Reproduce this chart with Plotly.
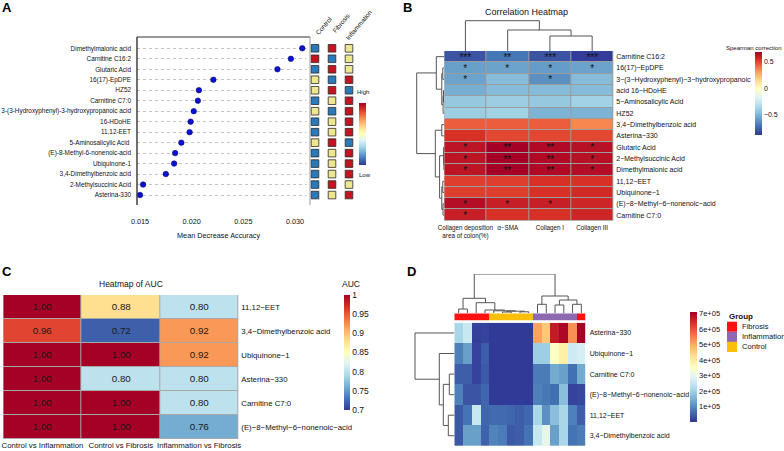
import plotly.graph_objects as go

W, H = 784, 451
def fx(p): return p / W
def fy(p): return 1 - p / H

SANS = "Liberation Sans, Arial, sans-serif"
NARROW = SANS

# ---------------- DATA ----------------
# Panel A: random forest importance
a_metabolites = ["Dimethylmalonic acid", "Carnitine C16:2", "Glutaric Acid", "16(17)-EpDPE", "HZ52",
                 "Carnitine C7:0", "3-(3-Hydroxyphenyl)-3-hydroxypropanoic acid", "16-HDoHE", "11,12-EET",
                 "5-Aminosalicylic Acid ", "(E)-8-Methyl-6-nonenoic-acid", "Ubiquinone-1",
                 "3,4-Dimethylbenzoic acid", "2-Methylsuccinic Acid", "Asterina-330"]
a_mda = [0.0307, 0.0296, 0.0283, 0.0221, 0.0207, 0.0206, 0.0202, 0.0199, 0.0198,
         0.0190, 0.0184, 0.0183, 0.0175, 0.0153, 0.0150]
a_groups = ["Control", "Fibrosis", "Inflammation"]
# relative level per group: -1 low, 0 middle, 1 high
a_levels = [[-1, 1, 0], [1, -1, 0], [-1, 1, 0], [0, -1, 1], [0, 1, -1],
            [-1, 0, 1], [0, -1, 1], [-1, 0, 1], [-1, 0, 1], [0, 1, -1],
            [-1, 0, 1], [-1, 0, 1], [-1, 0, 1], [-1, 1, 0], [-1, 0, 1]]
a_ticks = [0.015, 0.020, 0.025, 0.030]

# Panel B: Spearman correlation
b_metabolites = ["Carnitine C16:2", "16(17)\u2212EpDPE", "3\u2212(3\u2212Hydroxyphenyl)\u22123\u2212hydroxypropanoic",
                 "acid 16\u2212HDoHE", "5\u2212Aminosalicylic Acid", "HZ52", "3,4\u2212Dimethylbenzoic acid",
                 "Asterina\u2212330", "Glutaric Acid", "2\u2212Methylsuccinic Acid", "Dimethylmalonic acid",
                 "11,12\u2212EET", "Ubiquinone\u22121", "(E)\u22128\u2212Methyl\u22126\u2212nonenoic\u2212acid", "Carnitine C7:0"]
b_traits = ["Collagen deposition<br>area of colon(%)", "\u03b1\u2212SMA", "Collagen I", "Collagen III"]
b_rho = [[-0.80, -0.70, -0.80, -0.86],
         [-0.57, -0.56, -0.58, -0.56],
         [-0.56, -0.47, -0.62, -0.47],
         [-0.52, -0.47, -0.47, -0.47],
         [-0.42, -0.40, -0.42, -0.38],
         [-0.40, -0.38, -0.50, -0.50],
         [0.45, 0.45, 0.45, 0.36],
         [0.55, 0.50, 0.50, 0.50],
         [0.63, 0.69, 0.66, 0.64],
         [0.63, 0.69, 0.66, 0.64],
         [0.63, 0.70, 0.66, 0.65],
         [0.52, 0.52, 0.55, 0.55],
         [0.52, 0.52, 0.55, 0.57],
         [0.65, 0.60, 0.60, 0.58],
         [0.60, 0.55, 0.55, 0.58]]
b_stars = [["***", "**", "***", "***"],
           ["*", "*", "*", "*"],
           ["*", "", "*", ""],
           ["", "", "", ""], ["", "", "", ""], ["", "", "", ""], ["", "", "", ""], ["", "", "", ""],
           ["*", "**", "**", "*"],
           ["*", "**", "**", "*"],
           ["*", "**", "**", "*"],
           ["", "", "", ""], ["", "", "", ""],
           ["*", "*", "*", ""],
           ["*", "", "", ""]]
b_range = [-0.88, 0.69]
# hierarchical clustering (leaf a, leaf/cluster b, height)
b_col_merges = [(2, 3, 15), (1, 4, 21), (0, 5, 30.3)]
b_row_merges = [(1, 2, 1.5), (3, 4, 0.8), (16, 5, 1.2), (15, 17, 2.5), (0, 18, 8),
                (6, 7, 2.5), (9, 10, 0.4), (8, 21, 0.7), (11, 12, 1.5), (13, 14, 1.3),
                (23, 24, 2.5), (22, 25, 4.7), (20, 26, 9), (19, 27, 27.6)]

# Panel C: AUC
c_metabolites = ["11,12\u2212EET", "3,4\u2212Dimethylbenzoic acid", "Ubiquinone\u22121", "Asterina\u2212330",
                 "Carnitine C7:0", "(E)\u22128\u2212Methyl\u22126\u2212nonenoic\u2212acid"]
c_comparisons = ["Control vs Inflammation", "Control vs Fibrosis", "Inflammation vs Fibrosis"]
c_auc = [[1.00, 0.88, 0.80],
         [0.96, 0.72, 0.92],
         [1.00, 1.00, 0.92],
         [1.00, 0.80, 0.80],
         [1.00, 1.00, 0.80],
         [1.00, 1.00, 0.76]]
c_ticks = [1, 0.95, 0.9, 0.85, 0.8, 0.75, 0.7]

# Panel D: abundance heatmap (units of 1e5)
d_metabolites = ["Asterina\u2212330", "Ubiquinone\u22121", "Carnitine C7:0",
                 "(E)\u22128\u2212Methyl\u22126\u2212nonenoic\u2212acid", "11,12\u2212EET", "3,4\u2212Dimethylbenzoic acid"]
d_samples_group = ["Fibrosis"] * 4 + ["Control"] * 5 + ["Inflammation"] * 5 + ["Fibrosis"]
d_values_e5 = [[2.1, 2.5, 0.1, 0.15, 0.05, 0.05, 0.05, 0.05, 0.05, 5.1, 4.6, 6.7, 7.0, 5.3, 7.1],
               [0.85, 1.25, 0.15, 0.45, 0.05, 0.05, 0.05, 0.05, 0.05, 1.95, 1.95, 3.5, 3.9, 2.6, 2.7],
               [0.45, 0.45, 0.15, 0.4, 0.05, 0.05, 0.05, 0.05, 0.05, 0.8, 0.8, 1.4, 1.25, 0.65, 1.4],
               [0.85, 0.35, 0.35, 0.55, 0.05, 0.05, 0.05, 0.05, 0.05, 0.85, 0.75, 0.65, 1.7, 0.15, 0.2],
               [0.4, 0.7, 2.5, 0.55, 0.6, 0.6, 0.55, 0.45, 0.55, 2.1, 1.05, 1.7, 2.1, 0.85, 0.45],
               [0.4, 1.25, 1.25, 0.5, 0.9, 0.8, 0.4, 0.45, 0.7, 2.5, 3.0, 1.25, 2.1, 0.7, 0.8]]
d_group_order = ["Fibrosis", "Inflammation", "Control"]
d_ticks = [1e5, 2e5, 3e5, 4e5, 5e5, 6e5, 7e5]
d_max = 7.1e5
d_col_merges = [(0, 1, 4), (5, 6, 1.0), (7, 8, 1.2), (16, 17, 1.8), (4, 18, 2.2), (3, 19, 3.0),
                (2, 20, 10.3), (15, 21, 14.7), (9, 10, 8.7), (11, 12, 8.0), (13, 14, 8.7),
                (24, 25, 13), (23, 26, 17), (22, 27, 39)]
d_row_merges = [(2, 3, 5), (4, 5, 6), (6, 7, 11), (1, 8, 15), (0, 9, 39.3)]

# ---------------- STYLE ----------------
RDYLBU = ['#313695', '#4575b4', '#74add1', '#abd9e9', '#e0f3f8', '#ffffbf',
          '#fee090', '#fdae61', '#f46d43', '#d73027', '#a50026']
LEVEL_COLORS = {-1: '#2a79b9', 0: '#efe78f', 1: '#c3141f'}
GROUP_COLORS = {"Fibrosis": "#ff1111", "Inflammation": "#8e68b0", "Control": "#fbbf0a"}
DENDRO = dict(color='#555555', width=1)


def even_scale(colors):
    n = len(colors)
    return [[i / (n - 1), c] for i, c in enumerate(colors)]


def centered_scale(colors, zmin, zmax):
    f0 = (0 - zmin) / (zmax - zmin)
    pos = [f0 * i / 5 for i in range(6)] + [f0 + (1 - f0) * i / 5 for i in range(1, 6)]
    return [[p, c] for p, c in zip(pos, colors)]


def dendro(n, merges):
    pos = {i: float(i) for i in range(n)}
    hgt = {i: 0.0 for i in range(n)}
    ps, hs = [], []
    for k, (a, b, h) in enumerate(merges):
        pa, pb = pos[a], pos[b]
        ps += [pa, pa, pb, pb, None]
        hs += [hgt[a], h, h, hgt[b], None]
        pos[n + k] = (pa + pb) / 2
        hgt[n + k] = h
    return ps, hs


fig = go.Figure()

# ---- A: dot plot ----
fig.add_trace(go.Scatter(x=a_mda, y=a_metabolites, mode='markers', xaxis='x', yaxis='y',
                         marker=dict(size=5.5, color='#0b12d4', line=dict(color='#00006e', width=0.6)),
                         showlegend=False))
sq_x, sq_y, sq_c = [], [], []
for i, m in enumerate(a_metabolites):
    for j, g in enumerate(a_groups):
        sq_x.append(g)
        sq_y.append(m)
        sq_c.append(LEVEL_COLORS[a_levels[i][j]])
fig.add_trace(go.Scatter(x=sq_x, y=sq_y, mode='markers', xaxis='x2', yaxis='y2',
                         marker=dict(symbol='square', size=7.6, color=sq_c,
                                     line=dict(color='#2a2a2a', width=0.8)),
                         showlegend=False))
# colour key for A
fig.add_trace(go.Scatter(x=[None], y=[None], mode='markers', xaxis='x2', yaxis='y2',
                         marker=dict(color=[0], coloraxis='coloraxis'), showlegend=False,
                         hoverinfo='skip'))

# ---- B ----
fig.add_trace(go.Heatmap(z=b_rho, x=list(range(len(b_traits))), y=list(range(len(b_metabolites))),
                         text=b_stars, texttemplate='%{text}', textfont=dict(size=10, color='#111'),
                         coloraxis='coloraxis2', xgap=1, ygap=1, xaxis='x3', yaxis='y3'))
px_, hy_ = dendro(len(b_traits), b_col_merges)
fig.add_trace(go.Scatter(x=px_, y=hy_, mode='lines', line=DENDRO, xaxis='x4', yaxis='y4',
                         showlegend=False, hoverinfo='skip'))
py_, hx_ = dendro(len(b_metabolites), b_row_merges)
fig.add_trace(go.Scatter(x=hx_, y=py_, mode='lines', line=DENDRO, xaxis='x5', yaxis='y5',
                         showlegend=False, hoverinfo='skip'))

# ---- C ----
fig.add_trace(go.Heatmap(z=c_auc, x=list(range(len(c_comparisons))), y=list(range(len(c_metabolites))),
                         texttemplate='%{z:.2f}', textfont=dict(size=9.8, color='#1a1a1a', family=NARROW),
                         coloraxis='coloraxis3', xgap=1, ygap=1, xaxis='x6', yaxis='y6'))

# ---- D ----
d_z = [[v * 1e5 for v in row] for row in d_values_e5]
fig.add_trace(go.Heatmap(z=d_z, x=list(range(len(d_samples_group))), y=list(range(len(d_metabolites))),
                         coloraxis='coloraxis4', xaxis='x7', yaxis='y7'))
g_codes = [d_group_order.index(g) for g in d_samples_group]
g_scale = [[0, GROUP_COLORS["Fibrosis"]], [1 / 3, GROUP_COLORS["Fibrosis"]],
           [1 / 3, GROUP_COLORS["Inflammation"]], [2 / 3, GROUP_COLORS["Inflammation"]],
           [2 / 3, GROUP_COLORS["Control"]], [1, GROUP_COLORS["Control"]]]
fig.add_trace(go.Heatmap(z=[g_codes], x=list(range(len(g_codes))), y=[0], zmin=-0.5, zmax=2.5,
                         colorscale=g_scale, showscale=False, xaxis='x8', yaxis='y8'))
px_, hy_ = dendro(len(d_samples_group), d_col_merges)
fig.add_trace(go.Scatter(x=px_, y=hy_, mode='lines', line=DENDRO, xaxis='x9', yaxis='y9',
                         showlegend=False, hoverinfo='skip'))
py_, hx_ = dendro(len(d_metabolites), d_row_merges)
fig.add_trace(go.Scatter(x=hx_, y=py_, mode='lines', line=DENDRO, xaxis='x10', yaxis='y10',
                         showlegend=False, hoverinfo='skip'))

# ---------------- LAYOUT ----------------
def hidden(**kw):
    d = dict(showgrid=False, zeroline=False, showticklabels=False, ticks='', showline=False,
             automargin=False, tickangle=0)
    d.update(kw)
    return d

nA = len(a_metabolites)
nB = len(b_metabolites)
layout = dict(
    template='none',
    width=W, height=H, autosize=False, margin=dict(l=0, r=0, t=0, b=0, pad=0),
    paper_bgcolor='white', plot_bgcolor='white', showlegend=False, hovermode=False,
    font=dict(family=SANS, color='#111', size=8),
    # A
    xaxis=hidden(domain=[fx(137), fx(310)], range=[0.01471, 0.03145], showticklabels=True,
                 tickvals=a_ticks, ticktext=['%.3f' % t for t in a_ticks],
                 tickfont=dict(family=NARROW, size=7.3), ticklabelstandoff=11, anchor='y'),
    yaxis=hidden(domain=[fy(205), fy(37)], type='category', categoryarray=a_metabolites,
                 range=[nA - 0.05, -1.08], showticklabels=True, showgrid=True, griddash='dot',
                 gridcolor='#c4c4c4', gridwidth=1, tickfont=dict(family=NARROW, size=6.4),
                 ticklabelstandoff=5, anchor='x'),
    xaxis2=hidden(domain=[fx(306.5), fx(357.5)], type='category', categoryarray=a_groups,
                  range=[-0.5, 2.5], anchor='y2'),
    yaxis2=hidden(domain=[fy(205), fy(37)], type='category', categoryarray=a_metabolites,
                  range=[nA - 0.05, -1.08], anchor='x2'),
    # B
    xaxis3=hidden(domain=[fx(444.3), fx(613.3)], range=[-0.5, 3.5], showticklabels=True,
                  tickvals=list(range(4)), ticktext=b_traits, tickfont=dict(size=6.3),
                  ticklabelstandoff=2, anchor='y3'),
    yaxis3=hidden(domain=[fy(220.8), fy(51)], range=[nB - 0.5, -0.5], showticklabels=True,
                  tickvals=list(range(nB)), ticktext=b_metabolites, side='right',
                  tickfont=dict(size=7), ticklabelstandoff=2, anchor='x3'),
    xaxis4=hidden(domain=[fx(444.3), fx(613.3)], range=[-0.5, 3.5], anchor='y4'),
    yaxis4=hidden(domain=[fy(51), fy(20)], range=[0, 31], anchor='x4'),
    xaxis5=hidden(domain=[fx(405), fx(444.3)], range=[39.3, 0], anchor='y5'),
    yaxis5=hidden(domain=[fy(220.8), fy(51)], range=[nB - 0.5, -0.5], anchor='x5'),
    # C
    xaxis6=hidden(domain=[fx(3.3), fx(238.3)], range=[-0.5, 2.5], showticklabels=True,
                  tickvals=list(range(3)), ticktext=c_comparisons,
                  tickfont=dict(family=NARROW, size=7.8), ticklabelstandoff=0, anchor='y6'),
    yaxis6=hidden(domain=[fy(439), fy(295)], range=[5.5, -0.5], showticklabels=True,
                  tickvals=list(range(6)), ticktext=c_metabolites, side='right',
                  tickfont=dict(family=NARROW, size=7.8), ticklabelstandoff=2, anchor='x6'),
    # D
    xaxis7=hidden(domain=[fx(454.3), fx(585.7)], range=[-0.5, 14.5], anchor='y7'),
    yaxis7=hidden(domain=[fy(446), fy(322.7)], range=[5.5, -0.5], showticklabels=True,
                  tickvals=list(range(6)), ticktext=d_metabolites, side='right',
                  tickfont=dict(size=7), ticklabelstandoff=3, anchor='x7'),
    xaxis8=hidden(domain=[fx(454.3), fx(585.7)], range=[-0.5, 14.5], anchor='y8'),
    yaxis8=hidden(domain=[fy(320.7), fy(313.3)], range=[-0.5, 0.5], anchor='x8'),
    xaxis9=hidden(domain=[fx(454.3), fx(585.7)], range=[-0.5, 14.5], anchor='y9'),
    yaxis9=hidden(domain=[fy(313), fy(274)], range=[0, 39], anchor='x9'),
    xaxis10=hidden(domain=[fx(410), fx(454.3)], range=[44.3, 0], anchor='y10'),
    yaxis10=hidden(domain=[fy(446), fy(322.7)], range=[5.5, -0.5], anchor='x10'),
    # colour axes
    coloraxis=dict(colorscale=even_scale(RDYLBU), cmin=-1, cmax=1,
                   colorbar=dict(x=fx(358.5), xanchor='left', y=fy(134), yanchor='middle',
                                 len=62, lenmode='pixels', thickness=7, thicknessmode='pixels',
                                 xpad=0, ypad=0, outlinewidth=0, showticklabels=False, ticks='')),
    coloraxis2=dict(colorscale=centered_scale(RDYLBU, *b_range), cmin=b_range[0], cmax=b_range[1],
                    colorbar=dict(x=fx(755), xanchor='left', y=fy(93.5), yanchor='middle',
                                  len=83, lenmode='pixels', thickness=7, thicknessmode='pixels',
                                  xpad=0, ypad=0, outlinewidth=0, ticks='',
                                  tickvals=[-0.5, 0, 0.5], ticktext=['\u22120.5', '0', '0.5'],
                                  tickfont=dict(size=7))),
    coloraxis3=dict(colorscale=even_scale(RDYLBU), cmin=0.7, cmax=1.0,
                    colorbar=dict(x=fx(344), xanchor='left', y=fy(352.5), yanchor='middle',
                                  len=115, lenmode='pixels', thickness=5.5, thicknessmode='pixels',
                                  xpad=0, ypad=0, outlinewidth=0, ticks='',
                                  tickvals=c_ticks, ticktext=[('%g' % t) for t in c_ticks],
                                  tickfont=dict(family=NARROW, size=8.5))),
    coloraxis4=dict(colorscale=even_scale(RDYLBU), cmin=0, cmax=d_max,
                    colorbar=dict(x=fx(690), xanchor='left', y=fy(367.3), yanchor='middle',
                                  len=110, lenmode='pixels', thickness=7, thicknessmode='pixels',
                                  xpad=0, ypad=0, outlinewidth=0, ticks='',
                                  tickvals=d_ticks, ticktext=['%de+05' % int(t / 1e5) for t in d_ticks],
                                  tickfont=dict(size=7.5))),
)
fig.update_layout(**layout)

# frames / backgrounds (layout decoration)
shapes = [
    dict(type='line', xref='x domain', yref='y domain', x0=0, x1=0, y0=0, y1=1, line=dict(color='#333', width=1.4)),
    dict(type='line', xref='x domain', yref='y domain', x0=0, x1=1, y0=1, y1=1, line=dict(color='#333', width=1.2)),
    dict(type='line', xref='x domain', yref='y domain', x0=1, x1=1, y0=0, y1=1, line=dict(color='#9a9a9a', width=1)),
    dict(type='rect', xref='x3 domain', yref='y3 domain', x0=0, x1=1, y0=0, y1=1,
         fillcolor='#9c9c9c', line=dict(width=0), layer='below'),
    dict(type='rect', xref='x6 domain', yref='y6 domain', x0=0, x1=1, y0=0, y1=1,
         fillcolor='#a8a8a8', line=dict(width=0), layer='below'),
]
# group legend for D
for k, g in enumerate(d_group_order):
    y0 = 321.7 + k * 10.1
    shapes.append(dict(type='rect', xref='paper', yref='paper', x0=fx(727), x1=fx(737),
                       y0=fy(y0 + 10.1), y1=fy(y0), fillcolor=GROUP_COLORS[g], line=dict(width=0)))
fig.update_layout(shapes=shapes)

ann = []
def A(x, y, text, size=8, family=SANS, xanchor='center', yanchor='middle', angle=0, bold=False, color='#111'):
    ann.append(dict(x=fx(x), y=fy(y), xref='paper', yref='paper', text=('<b>%s</b>' % text) if bold else text,
                    showarrow=False, xanchor=xanchor, yanchor=yanchor, textangle=angle,
                    font=dict(size=size, family=family, color=color)))

A(0, 8, 'A', size=13, bold=True, xanchor='left', color='#000')
A(401, 8, 'B', size=13, bold=True, xanchor='left', color='#000')
A(0, 271, 'C', size=13, bold=True, xanchor='left', color='#000')
A(405, 271, 'D', size=13, bold=True, xanchor='left', color='#000')
A(218, 235, 'Mean Decrease Accuracy', size=7.3, family=NARROW)
for g, x0, y0 in zip(a_groups, [311.5, 328.0, 341.5], [38.5, 37.0, 43.5]):
    ann.append(dict(x=fx(x0), y=fy(y0), xref='paper', yref='paper', text=g, showarrow=False,
                    xanchor='left', yanchor='bottom', textangle=-50,
                    font=dict(size=6.4, family=NARROW, color='#111')))
A(355, 91.5, 'High', size=6, family=NARROW, xanchor='left')
A(357, 175, 'Low', size=6, family=NARROW, xanchor='left')
A(526, 12, 'Correlation Heatmap', size=9)
A(754, 47.5, 'Spearman correction', size=6)
A(131, 283.5, 'Heatmap of AUC', size=8.5, family=NARROW)
A(351, 283.5, 'AUC', size=8.5, family=NARROW)
A(727, 316, 'Group', size=8, bold=True, xanchor='left')
for k, g in enumerate(d_group_order):
    A(740, 326.7 + k * 10.1, g, size=7.6, xanchor='left')
fig.update_layout(annotations=ann)

fig.write_html("out.html", config={'displayModeBar': False, 'staticPlot': True},
               post_script="document.body.style.margin='0';document.body.style.padding='0';"
                           "document.documentElement.style.overflow='hidden';")
